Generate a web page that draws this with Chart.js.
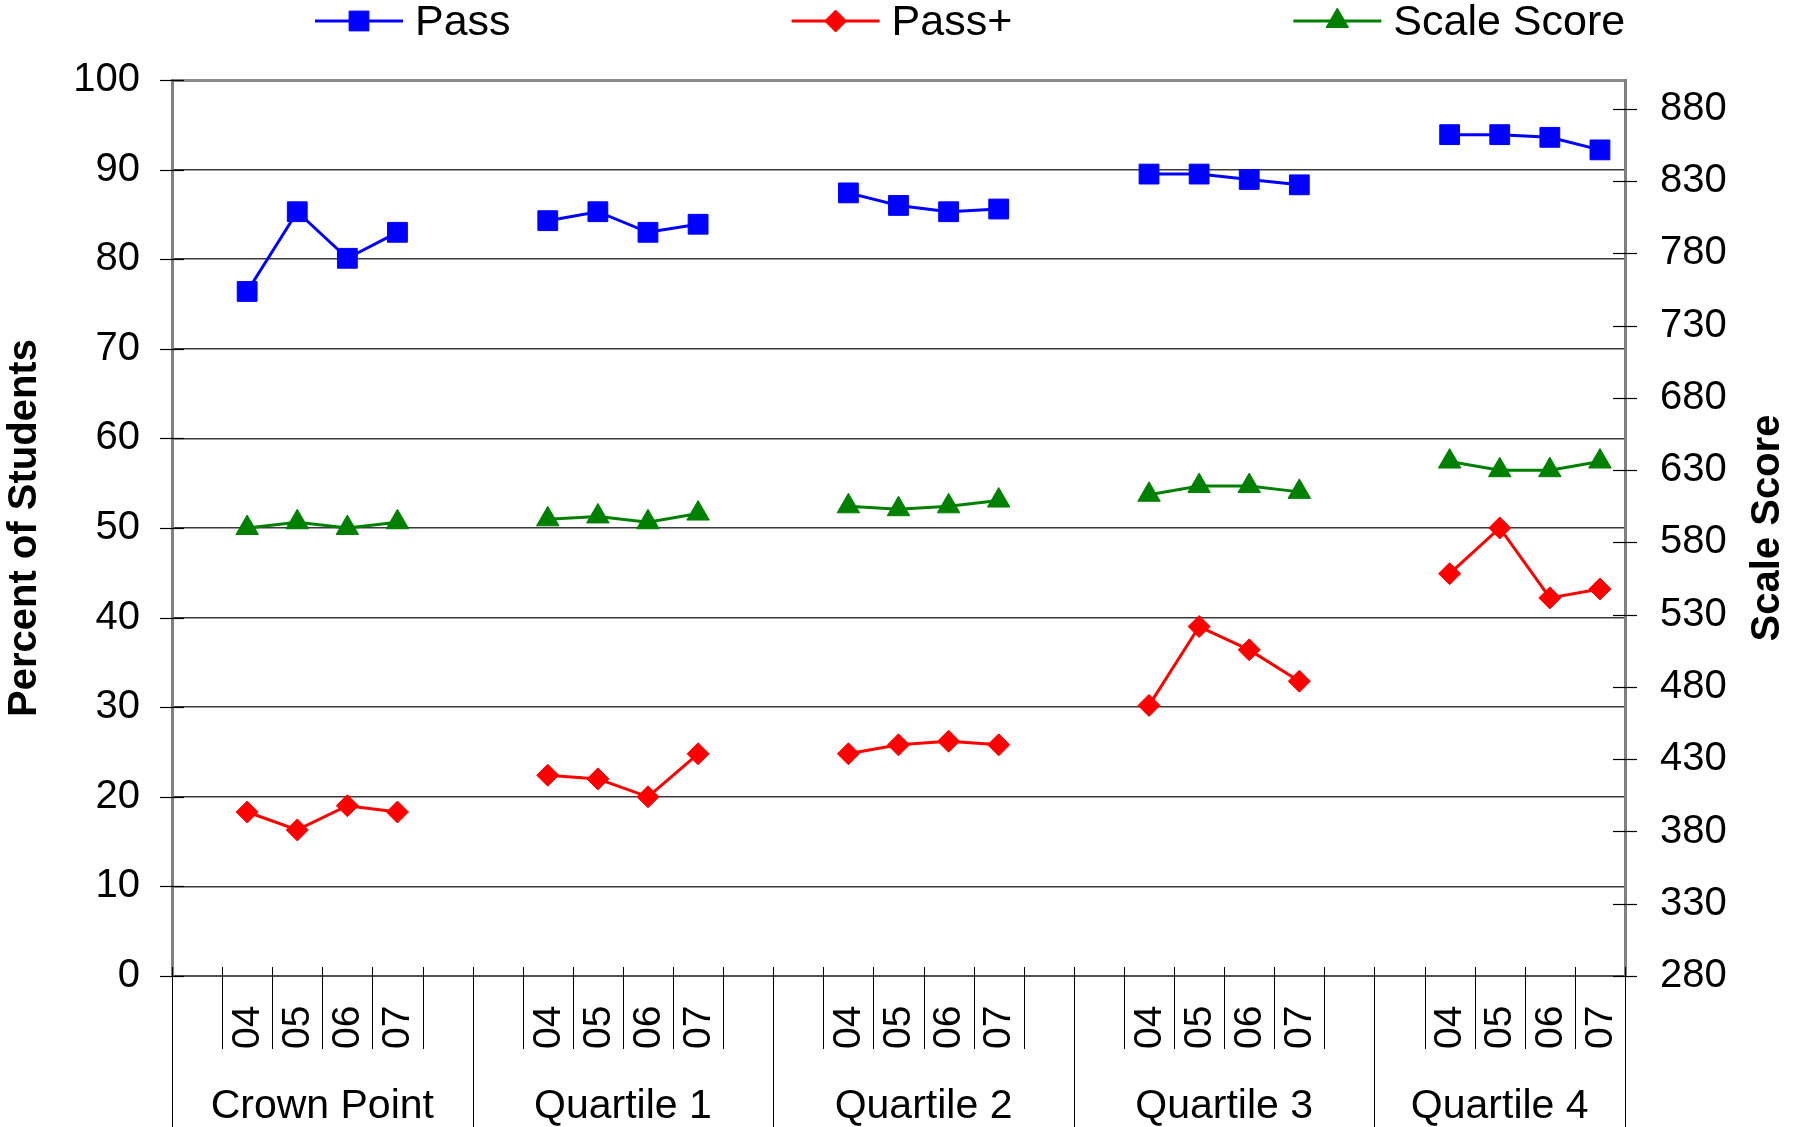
<!DOCTYPE html>
<html>
<head>
<meta charset="utf-8">
<title>Pass, Pass+ and Scale Score by Quartile</title>
<script src="https://cdn.jsdelivr.net/npm/chart.js@4.4.1/dist/chart.umd.min.js"></script>
<style>
  html, body { margin: 0; padding: 0; background: #ffffff; }
  canvas { display: block; }
</style>
</head>
<body>
<canvas id="scoreChart" width="1797" height="1127"></canvas>
<script>
// Categories
const groups = ["Crown Point", "Quartile 1", "Quartile 2", "Quartile 3", "Quartile 4"];
const years = ["04", "05", "06", "07"];

// Series values (4 years per group, group after group)
const passValues = [76.4, 85.3, 80.1, 83.0, 84.3, 85.3, 83.0, 83.9, 87.4, 86.0, 85.3, 85.6, 89.5, 89.5, 88.9, 88.3, 93.9, 93.9, 93.6, 92.2];
const passPlusValues = [18.3, 16.3, 19.0, 18.3, 22.4, 22.0, 20.0, 24.8, 24.8, 25.8, 26.2, 25.8, 30.2, 39.0, 36.4, 32.9, 44.9, 50.0, 42.2, 43.2];
const scaleScoreValues = [590, 594, 590, 594, 596, 598, 594, 600, 605, 603, 605, 609, 613, 619, 619, 615, 636, 630, 630, 636];

// Tick labels
const percentTicks = [0, 10, 20, 30, 40, 50, 60, 70, 80, 90, 100];
const scaleTicks = [280, 330, 380, 430, 480, 530, 580, 630, 680, 730, 780, 830, 880];

const FONT = "'Liberation Sans', Arial, Helvetica, sans-serif";
Chart.defaults.font.family = FONT;
Chart.defaults.color = "#000";

// Each group: empty slot, 04..07, empty slot (the last group has no trailing slot)
const labels = [];
const slotGroup = [];
const passSeries = [], passPlusSeries = [], scaleSeries = [];
groups.forEach(function (g, gi) {
  const slots = [""].concat(years, gi === groups.length - 1 ? [] : [""]);
  slots.forEach(function (yr, si) {
    const k = gi * years.length + si - 1;
    const has = yr !== "";
    labels.push(yr);
    slotGroup.push(gi);
    passSeries.push(has ? passValues[k] : null);
    passPlusSeries.push(has ? passPlusValues[k] : null);
    scaleSeries.push(has ? scaleScoreValues[k] : null);
  });
});

function drawMarker(ctx, ds, x, y) {
  ctx.fillStyle = ds.backgroundColor;
  ctx.strokeStyle = ds.borderColor;
  ctx.lineWidth = 1;
  Chart.helpers.drawPoint(ctx, { pointStyle: ds.pointStyle, radius: ds.pointRadius, rotation: 0, borderWidth: 1 }, x, y);
}

// Excel-like frame: legend, crossing ticks, category labels, axis titles
const excelFrame = {
  id: "excelFrame",
  afterDraw(chart) {
    const { ctx, chartArea: area, scales } = chart;
    const xs = scales.x, yL = scales.y, yR = scales.y1;
    const half = (xs.getPixelForValue(1) - xs.getPixelForValue(0)) / 2;
    ctx.save();

    function seg(x1, y1, x2, y2) {
      ctx.beginPath();
      ctx.moveTo(x1, y1);
      ctx.lineTo(x2, y2);
      ctx.stroke();
    }

    // crossing tick marks on both value axes
    ctx.strokeStyle = "#000";
    ctx.lineWidth = 1.2;
    yL.ticks.forEach(function (t) {
      const py = Math.round(yL.getPixelForValue(t.value)) + 0.5;
      seg(area.left - 12, py, area.left + 12, py);
    });
    yR.ticks.forEach(function (t) {
      const py = Math.round(yR.getPixelForValue(t.value)) + 0.5;
      seg(area.right - 12, py, area.right + 12, py);
    });

    // category boundaries
    ctx.lineWidth = 1;
    ctx.strokeStyle = "#000";
    const first = xs.getPixelForValue(0) - half;
    for (let b = 0; b <= labels.length; b++) {
      const bx = Math.round(first + b * 2 * half) + 0.5;
      const isGroupEdge = b === 0 || b === labels.length || slotGroup[b - 1] !== slotGroup[b];
      seg(bx, area.bottom - 9, bx, isGroupEdge ? chart.height : area.bottom + 73);
    }

    // year labels
    ctx.fillStyle = "#000";
    ctx.font = "39px " + FONT;
    ctx.textAlign = "left";
    ctx.textBaseline = "middle";
    labels.forEach(function (lab, i) {
      if (!lab) return;
      ctx.save();
      ctx.translate(xs.getPixelForValue(i) + 1, area.bottom + 73);
      ctx.rotate(-Math.PI / 2);
      ctx.fillText(lab, 0, 0);
      ctx.restore();
    });

    // group labels
    ctx.font = "41px " + FONT;
    ctx.textAlign = "center";
    ctx.textBaseline = "alphabetic";
    groups.forEach(function (g, gi) {
      const s = slotGroup.indexOf(gi), e = slotGroup.lastIndexOf(gi);
      const cx = (xs.getPixelForValue(s) + xs.getPixelForValue(e)) / 2;
      ctx.fillText(g, cx, area.bottom + 142);
    });

    // axis titles
    ctx.font = "bold 40px " + FONT;
    ctx.textBaseline = "middle";
    const cy = (area.top + area.bottom) / 2;
    [[25, "Percent of Students"], [1768, "Scale Score"]].forEach(function (t) {
      ctx.save();
      ctx.translate(t[0], cy);
      ctx.rotate(-Math.PI / 2);
      ctx.fillText(t[1], 0, 0);
      ctx.restore();
    });

    // legend: line with marker, then text
    ctx.font = "43px " + FONT;
    ctx.textAlign = "left";
    ctx.textBaseline = "middle";
    let lx = 315;
    const ly = 21;
    chart.data.datasets.forEach(function (ds) {
      ctx.strokeStyle = ds.borderColor;
      ctx.lineWidth = 3;
      seg(lx, ly, lx + 88, ly);
      drawMarker(ctx, ds, lx + 44, ly);
      ctx.fillStyle = "#000";
      ctx.fillText(ds.label, lx + 100, ly + 2);
      lx += 100 + ctx.measureText(ds.label).width + 281;
    });

    ctx.restore();
  }
};

function lineSet(label, data, color, style, radius, axis) {
  return {
    label: label,
    data: data,
    yAxisID: axis,
    borderColor: color,
    backgroundColor: color,
    borderWidth: 3,
    pointStyle: style,
    pointRadius: radius,
    pointHoverRadius: radius,
    pointBorderWidth: 1,
    spanGaps: false,
    tension: 0
  };
}

const ctx = document.getElementById("scoreChart").getContext("2d");
const scoreChart = new Chart(ctx, {
  type: "line",
  data: {
    labels: labels,
    datasets: [
      lineSet("Pass", passSeries, "#0000ff", "rect", 14, "y"),
      lineSet("Pass+", passPlusSeries, "#ff0000", "rectRot", 11, "y"),
      lineSet("Scale Score", scaleSeries, "#008000", "triangle", 13, "y1")
    ]
  },
  options: {
    responsive: false,
    animation: false,
    devicePixelRatio: 1,
    layout: { padding: { top: 80, left: 0, right: 0, bottom: 0 } },
    plugins: {
      legend: { display: false },
      tooltip: { enabled: false }
    },
    scales: {
      x: {
        type: "category",
        offset: true,
        grid: { display: false },
        ticks: { display: false },
        border: { display: true, color: "#555", width: 2 },
        afterFit: function (scale) { scale.height = 151; }
      },
      y: {
        position: "left",
        min: 0,
        max: 100,
        afterBuildTicks: function (axis) { axis.ticks = percentTicks.map(function (v) { return { value: v }; }); },
        ticks: { padding: 32, color: "#000", font: { size: 40 } },
        grid: {
          drawTicks: false,
          color: function (c) { return c.tick && c.tick.value === 100 ? "#8c8c8c" : "#3a3a3a"; },
          lineWidth: function (c) { return c.tick && c.tick.value === 100 ? 3 : 1.5; }
        },
        border: { display: true, color: "#808080", width: 3 },
        afterFit: function (scale) { scale.width = 172; }
      },
      y1: {
        position: "right",
        min: 280,
        max: 900,
        afterBuildTicks: function (axis) { axis.ticks = scaleTicks.map(function (v) { return { value: v }; }); },
        ticks: { padding: 35, color: "#000", font: { size: 40 } },
        grid: { display: false, drawTicks: false },
        border: { display: true, color: "#808080", width: 3 },
        afterFit: function (scale) { scale.width = 172; }
      }
    }
  },
  plugins: [excelFrame]
});
</script>
</body>
</html>
